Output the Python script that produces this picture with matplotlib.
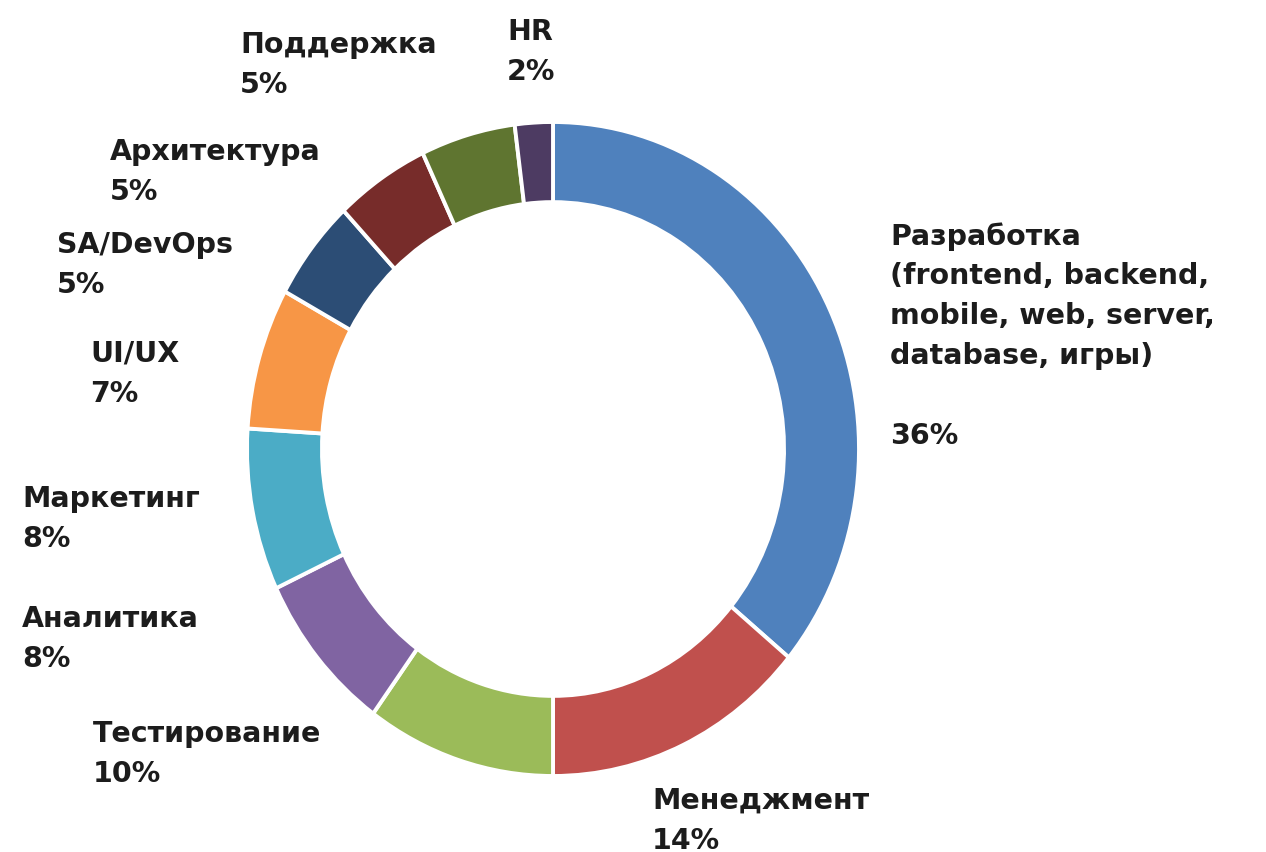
import matplotlib.pyplot as plt

# share of vacancies by area, percent
labels = ["Разработка\n(frontend, backend,\nmobile, web, server,\ndatabase, игры)\n",
          "Менеджмент", "Тестирование", "Аналитика", "Маркетинг",
          "UI/UX", "SA/DevOps", "Архитектура", "Поддержка", "HR"]
shares = [36, 14, 10, 8, 8, 7, 5, 5, 5, 2]
colors = ["#4F81BD", "#C0504D", "#9BBB59", "#8064A2", "#4BACC6",
          "#F79646", "#2C4D75", "#772C2A", "#5F7530", "#4D3B62"]

# label anchors: left edge and first baseline, in pixels from top-left
label_x = [890, 652, 93, 22, 22, 90, 57, 110, 240, 507]
label_y = [243, 808, 741, 626, 506, 361, 252, 159, 52, 39]

W, H = 1266, 853
FS = 20.5
fig = plt.figure(figsize=(W / 100, H / 100), dpi=100)
ax = fig.add_axes([0, 0, 1, 1])

# ring centre and radii in pixels
cx, cy, rx, ry = 553, 450, 306, 327

ax.pie(shares, colors=colors, startangle=90, counterclock=False,
       radius=1.0, wedgeprops=dict(width=0.245, edgecolor="white", linewidth=2.8))
ax.set_aspect("auto")
ax.set_xlim(-cx / rx, (W - cx) / rx)
ax.set_ylim(-(H - cy) / ry, cy / ry)
ax.axis("off")

# distance from the top of a text box to its first baseline
asc = 0.74 * FS * 100 / 72

for name, val, x, y in zip(labels, shares, label_x, label_y):
    fig.text(x / W, 1 - (y - asc) / H, f"{name}\n{val}%", ha="left", va="top",
             fontsize=FS, fontweight="bold", color="#1c1c1c",
             linespacing=1.54, family="DejaVu Sans")

fig.savefig("out.png", dpi=100, facecolor="white")
